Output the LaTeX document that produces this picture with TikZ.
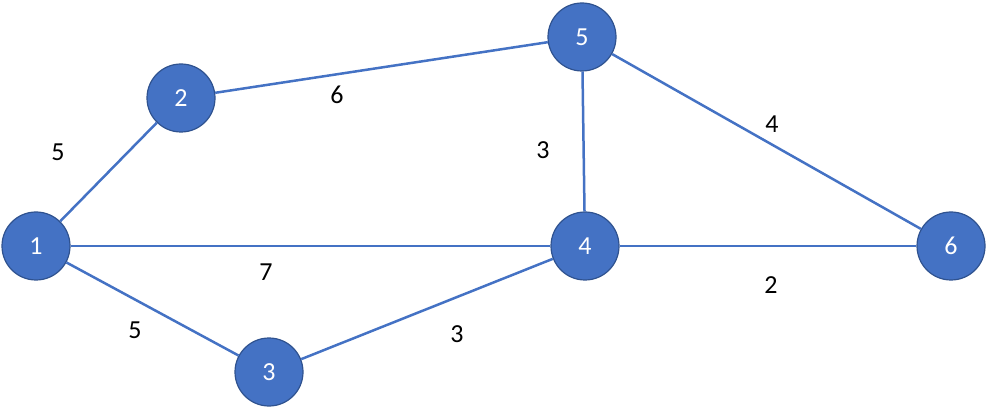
\documentclass[tikz,border=0pt]{standalone}
\usepackage{fontspec}
\setmainfont{Carlito}
\definecolor{nfill}{HTML}{4472C4}
\definecolor{nedge}{HTML}{2F528F}
\begin{document}
\begin{tikzpicture}[x=1pt,y=-1pt,
  vert/.style={circle,fill=nfill,draw=nedge,line width=1.2pt,minimum size=68pt,inner sep=0pt,text=white,font=\fontsize{26}{30}\selectfont},
  edge/.style={draw=nfill,line width=2.5pt},
  wlab/.style={font=\fontsize{26}{30}\selectfont,text=black}]
\useasboundingbox (0,0) rectangle (987,419);
\node[vert] (n1) at (36,246) {1};
\node[vert] (n2) at (181,98) {2};
\node[vert] (n3) at (269,372) {3};
\node[vert] (n4) at (585,246) {4};
\node[vert] (n5) at (582,37) {5};
\node[vert] (n6) at (951,246) {6};
\draw[edge] (n1) -- (n2);
\draw[edge] (n1) -- (n4);
\draw[edge] (n1) -- (n3);
\draw[edge] (n2) -- (n5);
\draw[edge] (n5) -- (n4);
\draw[edge] (n5) -- (n6);
\draw[edge] (n3) -- (n4);
\draw[edge] (n4) -- (n6);
\node[wlab] (w12) at (58,152) {5};
\node[wlab] (w25) at (337,95) {6};
\node[wlab] (w54) at (543,150) {3};
\node[wlab] (w56) at (772,124) {4};
\node[wlab] (w14) at (266,272) {7};
\node[wlab] (w46) at (771,285) {2};
\node[wlab] (w13) at (135,330) {5};
\node[wlab] (w34) at (457,334) {3};
\end{tikzpicture}
\end{document}
